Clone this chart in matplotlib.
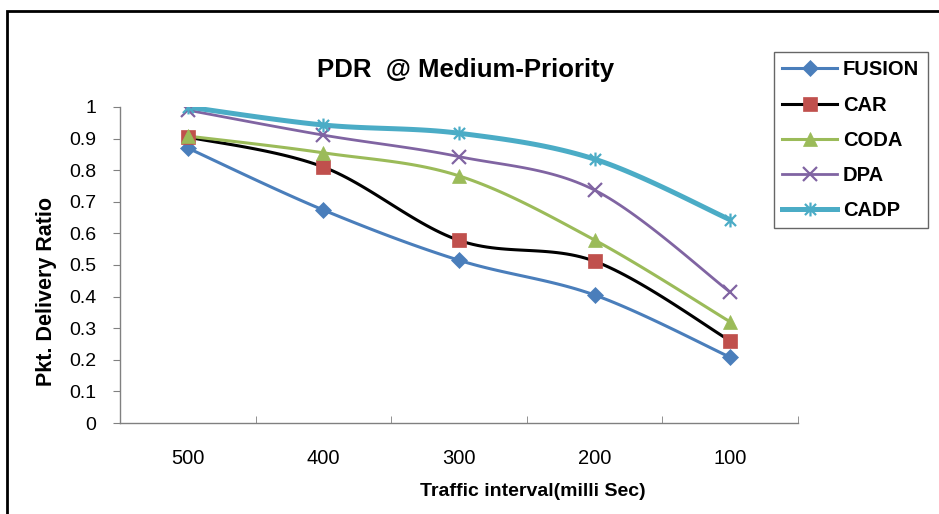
import numpy as np
import matplotlib
matplotlib.use("Agg")
import matplotlib.pyplot as plt
from matplotlib.path import Path
from matplotlib.patches import Rectangle

plt.rcParams['font.family'] = ['Liberation Sans', 'DejaVu Sans']

categories = ["500", "400", "300", "200", "100"]
fusion = [0.87, 0.674, 0.515, 0.405, 0.208]
car = [0.905, 0.81, 0.578, 0.512, 0.26]
coda = [0.908, 0.855, 0.782, 0.579, 0.32]
dpa = [0.99, 0.911, 0.843, 0.737, 0.414]
cadp = [1.0, 0.943, 0.917, 0.835, 0.643]
series_names = ["FUSION", "CAR", "CODA", "DPA", "CADP"]
yticks = [0, 0.1, 0.2, 0.3, 0.4, 0.5, 0.6, 0.7, 0.8, 0.9, 1.0]
ytick_labels = ["0", "0.1", "0.2", "0.3", "0.4", "0.5", "0.6", "0.7", "0.8", "0.9", "1"]


def smooth(xs, ys, n=30):
    xs = np.asarray(xs, float)
    ys = np.asarray(ys, float)
    P = np.column_stack([xs, ys])
    P = np.vstack([P[0], P, P[-1]])
    out = []
    for i in range(1, len(P) - 2):
        p0, p1, p2, p3 = P[i - 1], P[i], P[i + 1], P[i + 2]
        t = np.linspace(0, 1, n)[:, None]
        seg = 0.5 * ((2 * p1) + (-p0 + p2) * t + (2 * p0 - 5 * p1 + 4 * p2 - p3) * t ** 2
                     + (-p0 + 3 * p1 - 3 * p2 + p3) * t ** 3)
        out.append(seg if i == 1 else seg[1:])
    out = np.vstack(out)
    return out[:, 0], out[:, 1]


star = Path([(0, -1), (0, 1), (-0.8, -0.8), (0.8, 0.8), (-0.8, 0.8), (0.8, -0.8)],
            [Path.MOVETO, Path.LINETO, Path.MOVETO, Path.LINETO, Path.MOVETO, Path.LINETO])

W, H = 939, 514
fig = plt.figure(figsize=(W / 100, H / 100), dpi=100)
ax = fig.add_axes([120 / W, 1 - 423 / H, (798 - 120) / W, (423 - 107) / H])

x = np.arange(len(categories))
styles = [
    dict(data=fusion, lc='#4A7EBB', mc='#4A7EBB', marker='D', ms=8, lw=2.2),
    dict(data=car, lc='black', mc='#C0504D', marker='s', ms=9.5, lw=2.2),
    dict(data=coda, lc='#9BBB59', mc='#9BBB59', marker='^', ms=10, lw=2.2),
    dict(data=dpa, lc='#8064A2', mc='#8064A2', marker='x', ms=10, lw=2.0),
    dict(data=cadp, lc='#4BACC6', mc='#4BACC6', marker=star, ms=10, lw=3.6),
]
for name, s in zip(series_names, styles):
    sx, sy = smooth(x, s['data'])
    ax.plot(sx, sy, color=s['lc'], lw=s['lw'], zorder=2)
    mew = 1.6 if (s['marker'] == 'x' or s['marker'] is star) else 0.5
    ax.plot(x, s['data'], linestyle='none', marker=s['marker'], ms=s['ms'],
            mfc=s['mc'], mec=s['mc'], mew=mew, zorder=3)
    ax.plot([], [], color=s['lc'], lw=s['lw'], marker=s['marker'], ms=s['ms'],
            mfc=s['mc'], mec=s['mc'], mew=mew, label=name)

ax.set_xlim(-0.5, len(categories) - 0.5)
ax.set_ylim(0, 1)
ax.set_xticks(x)
ax.set_xticklabels(categories, fontsize=14.5)
ax.set_xticks(np.arange(-0.5, len(categories), 1), minor=True)
ax.tick_params(axis='x', which='major', length=0, pad=19)
ax.tick_params(axis='x', which='minor', length=5, direction='in', color='#808080')
ax.set_yticks(yticks)
ax.set_yticklabels(ytick_labels, fontsize=14)
ax.tick_params(axis='y', length=5, direction='out', color='#808080', pad=12)
for sp in ['top', 'right']:
    ax.spines[sp].set_visible(False)
for sp in ['left', 'bottom']:
    ax.spines[sp].set_color('#808080')
    ax.spines[sp].set_linewidth(1.0)

fig.text(533 / W, 1 - 492 / H, "Traffic interval(milli Sec)", fontsize=14, fontweight='bold',
         ha='center', va='center')
fig.text(47 / W, 1 - 292 / H, "Pkt. Delivery Ratio", fontsize=15.5, fontweight='bold',
         ha='center', va='center', rotation=90)

fig.text(466 / W, 1 - 70 / H, "PDR  @ Medium-Priority", fontsize=18.5, fontweight='bold',
         ha='center', va='center')

leg = fig.legend(loc='upper left', bbox_to_anchor=(774 / W, 1 - 52 / H), frameon=True,
                 fancybox=False, edgecolor='#404040', prop=dict(size=14.5, weight='bold'),
                 handlelength=2.7, labelspacing=0.8, borderpad=0.42, handletextpad=0.3,
                 borderaxespad=0)
leg.get_frame().set_linewidth(1.0)

fig.patches.append(Rectangle((7 / W, -0.1), 1.1, 1 - 11 / H + 0.1, transform=fig.transFigure,
                             fill=False, edgecolor='black', lw=2))

fig.savefig("out.png", dpi=100)
